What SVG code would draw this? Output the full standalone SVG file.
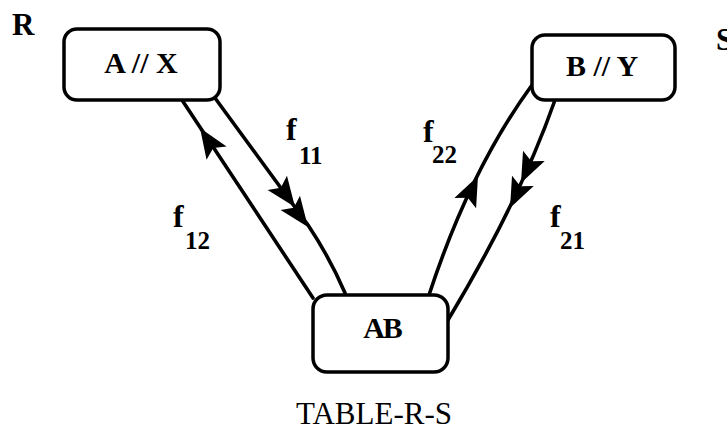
<svg xmlns="http://www.w3.org/2000/svg" width="727" height="431" viewBox="0 0 727 431">
<style>
.box{fill:#fff;stroke:#000;stroke-width:3.5}
.edge{fill:none;stroke:#000;stroke-width:3.6;stroke-linecap:round}
.lbl{font-family:"Liberation Serif","Times New Roman",serif;font-weight:bold;fill:#000}
.f{font-size:32px}
.sub{font-size:25px}
.node{font-size:30px;text-anchor:middle}
</style>
<defs>
<polygon id="ah" points="0,0 -30,-12 -24,0 -30,12" fill="#000"/>
</defs>
<rect width="727" height="431" fill="#fff"/>
<text class="lbl" x="12" y="35" font-size="31">R</text>
<text class="lbl" x="716" y="50" font-size="31">S</text>
<g id="connectors">
<path class="edge" d="M182,100 L313,298"/>
<use href="#ah" transform="translate(200,128) rotate(-123.5)"/>
<path class="edge" d="M215,98 L308,225 Q330,258 345,293"/>
<use href="#ah" transform="translate(295,207) rotate(53.8)"/>
<use href="#ah" transform="translate(308,227) rotate(53.8)"/>
<path class="edge" d="M532,85 Q470,170 429,295"/>
<use href="#ah" transform="translate(478,176) rotate(-64.8)"/>
<path class="edge" d="M555,100 Q520,200 448,320"/>
<use href="#ah" transform="translate(521,183) rotate(115.4)"/>
<use href="#ah" transform="translate(510,208) rotate(115.4)"/>
</g>
<g id="node-ax">
<rect class="box" x="64" y="29" width="156" height="71" rx="13"/>
<text class="lbl node" x="141" y="73">A // X</text>
</g>
<g id="node-by">
<rect class="box" x="532" y="35" width="143" height="65" rx="13"/>
<text class="lbl node" x="602" y="76">B // Y</text>
</g>
<g id="node-ab">
<rect class="box" x="313" y="295" width="135" height="77" rx="14"/>
<text class="lbl node" x="382" y="338" letter-spacing="-2">AB</text>
</g>
<g id="labels">
<text class="lbl f" x="286" y="140">f</text><text class="lbl sub" x="299" y="164">11</text>
<text class="lbl f" x="173" y="227">f</text><text class="lbl sub" x="185" y="249">12</text>
<text class="lbl f" x="423" y="142">f</text><text class="lbl sub" x="432" y="163">22</text>
<text class="lbl f" x="550" y="227">f</text><text class="lbl sub" x="560" y="249">21</text>
</g>
<text x="374" y="424" font-family="Liberation Serif,'Times New Roman',serif" font-size="31" text-anchor="middle">TABLE-R-S</text>
</svg>
